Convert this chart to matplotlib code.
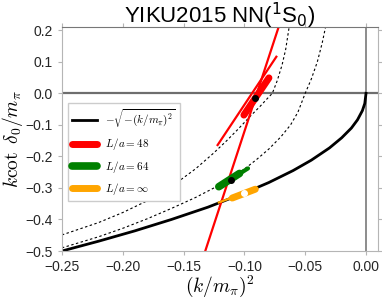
import matplotlib
matplotlib.use('Agg')
import matplotlib.pyplot as plt

plt.rcParams['font.family'] = ['Liberation Sans', 'DejaVu Sans']
plt.rcParams['mathtext.fontset'] = 'cm'

# infinite volume bound state curve -sqrt(-(k/m_pi)^2)
bound_x = [-0.25, -0.22, -0.19, -0.16, -0.13, -0.10, -0.08, -0.06, -0.045, -0.03,
           -0.02, -0.012, -0.007, -0.003, -0.001, 0.0]
bound_y = [-0.500, -0.469, -0.436, -0.400, -0.361, -0.316, -0.283, -0.245, -0.212, -0.173,
           -0.141, -0.110, -0.084, -0.055, -0.032, 0.0]

# dotted finite volume curves (L/a=48 upper, L/a=64 lower)
fv48_x = [-0.25, -0.22, -0.20, -0.18, -0.16, -0.14, -0.126, -0.115, -0.105, -0.095,
          -0.087, -0.081, -0.077, -0.073, -0.069, -0.066, -0.063]
fv48_y = [-0.449, -0.410, -0.378, -0.341, -0.296, -0.239, -0.192, -0.152, -0.113, -0.072,
          -0.041, -0.016, 0.0, 0.040, 0.090, 0.140, 0.215]
fv64_x = [-0.25, -0.22, -0.20, -0.18, -0.16, -0.14, -0.12, -0.10, -0.09, -0.08,
          -0.07, -0.062, -0.056, -0.050, -0.045, -0.040, -0.036, -0.033]
fv64_y = [-0.490, -0.455, -0.428, -0.398, -0.365, -0.330, -0.290, -0.240, -0.210, -0.177,
          -0.138, -0.100, -0.060, 0.0, 0.045, 0.100, 0.160, 0.215]

# L/a=48 (red)
red_steep_x = [-0.133, -0.071]
red_steep_y = [-0.51, 0.22]
red_thin_x = [-0.122, -0.0737]
red_thin_y = [-0.164, 0.116]
red_band_x = [-0.1004, -0.0798]
red_band_y = [-0.069, 0.049]
red_pt = (-0.091, -0.016)

# L/a=64 (green)
green_band_x = [-0.121, -0.104]
green_band_y = [-0.296, -0.254]
green_thin_x = [-0.121, -0.097]
green_thin_y = [-0.296, -0.238]
green_pt = (-0.111, -0.275)

# L/a=inf (orange)
orange_thin_x = [-0.121, -0.090]
orange_thin_y = [-0.346, -0.302]
orange_band_x = [-0.110, -0.091]
orange_band_y = [-0.332, -0.304]
orange_pt = (-0.100, -0.316)

fig = plt.figure(figsize=(3.82, 3.01), dpi=100)
ax = fig.add_axes([0.162, 0.166, 0.828, 0.744])

ax.axhline(0, color='#6e6e6e', lw=1.6, zorder=1)
ax.axvline(0, color='#6e6e6e', lw=1.1, zorder=1)

ax.plot(fv48_x, fv48_y, color='black', lw=0.8, ls=(0, (2.2, 2.2)))
ax.plot(fv64_x, fv64_y, color='black', lw=0.8, ls=(0, (2.2, 2.2)))
ax.plot(bound_x, bound_y, color='black', lw=2.0, label=r'$-\sqrt{-(k/m_\pi)^2}$')

ax.plot(red_steep_x, red_steep_y, color='red', lw=1.6)
ax.plot(red_thin_x, red_thin_y, color='red', lw=1.6)
ax.plot(red_band_x, red_band_y, color='red', lw=5, solid_capstyle='round', label=r'$L/a=48$')
ax.plot(*red_pt, 'o', color='black', ms=4, zorder=5)

ax.plot(green_thin_x, green_thin_y, color='green', lw=3, solid_capstyle='round')
ax.plot(green_band_x, green_band_y, color='green', lw=5.5, solid_capstyle='round', label=r'$L/a=64$')
ax.plot(*green_pt, 'o', color='black', ms=4, zorder=5)

ax.plot(orange_thin_x, orange_thin_y, color='orange', lw=1.6)
ax.plot(orange_band_x, orange_band_y, color='orange', lw=5, solid_capstyle='round', label=r'$L/a=\infty$')
ax.plot(*orange_pt, 'o', color='white', ms=4, zorder=5)

ax.set_xlim(-0.25, 0.01)
ax.set_ylim(-0.5, 0.21)
ax.set_xticks([-0.25, -0.20, -0.15, -0.10, -0.05, 0.00])
ax.set_yticks([-0.5, -0.4, -0.3, -0.2, -0.1, 0.0, 0.1, 0.2])

for side in ['left', 'right', 'bottom']:
    ax.spines[side].set_color('#b5b5b5')
ax.spines['top'].set_color('#777777')
ax.tick_params(direction='out', length=3, width=0.8, color='#b5b5b5',
               labelsize=10, labelcolor='#262626', top=True, right=True)

ax.set_xlabel(r'$(k/m_\pi)^2$', fontsize=14, labelpad=0)
ax.set_ylabel(r'$k\cot\ \delta_0/m_\pi$', fontsize=14, labelpad=0)
ax.set_title('YIKU2015 NN($^1$S$_0$)', fontsize=16, math_fontfamily='dejavusans', pad=3)

ax.legend(loc='upper left', bbox_to_anchor=(0.019, 0.66), borderaxespad=0,
          fontsize=8, handlelength=2.2, handletextpad=0.7, labelspacing=0.55,
          frameon=True, fancybox=False, edgecolor='#cccccc', framealpha=1)

fig.savefig('out.png', dpi=100)
